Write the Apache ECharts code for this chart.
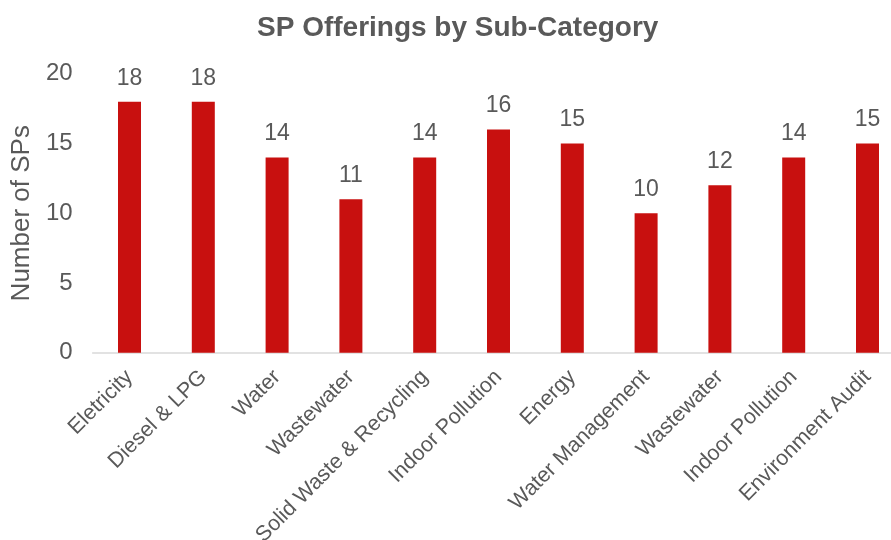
<!DOCTYPE html>
<html>
<head>
<meta charset="utf-8">
<script src="https://cdn.jsdelivr.net/npm/echarts@6/dist/echarts.min.js"></script>
<style>html,body{margin:0;padding:0;background:#fff}#c{width:891px;height:540px}</style>
</head>
<body>
<div id="c"></div>
<script>
const categories = ["Eletricity", "Diesel & LPG", "Water", "Wastewater", "Solid Waste & Recycling", "Indoor Pollution", "Energy", "Water Management", "Wastewater", "Indoor Pollution", "Environment Audit"];
const values = [18, 18, 14, 11, 14, 16, 15, 10, 12, 14, 15];
const yTicks = [0, 5, 10, 15, 20];
const titleText = "SP Offerings by Sub-Category";
const yName = "Number of SPs";

const FONT = '"Liberation Sans", Arial, sans-serif';
const GRAY = '#595959';
const chart = echarts.init(document.getElementById('c'), null, {renderer: 'canvas'});
chart.setOption({
  animation: false,
  backgroundColor: '#ffffff',
  title: {
    text: titleText,
    left: 252,
    top: 9,
    textStyle: {fontFamily: FONT, fontSize: 28, fontWeight: 'bold', color: GRAY}
  },
  grid: {left: 92.6, right: -13.4, top: 73.8, bottom: 187.3, containLabel: false, outerBoundsMode: 'none'},
  xAxis: {
    type: 'category',
    data: categories,
    axisLine: {show: true, lineStyle: {color: '#D9D9D9', width: 1.5}},
    axisTick: {show: false},
    axisLabel: {
      interval: 0,
      rotate: 45,
      margin: 21,
      color: GRAY,
      fontFamily: FONT,
      fontSize: 21.5
    }
  },
  yAxis: {
    type: 'value',
    min: yTicks[0],
    max: yTicks[yTicks.length - 1],
    interval: 5,
    name: yName,
    nameLocation: 'middle',
    nameGap: 56,
    nameTextStyle: {fontFamily: FONT, fontSize: 26, color: GRAY},
    axisLine: {show: false},
    axisTick: {show: false},
    splitLine: {show: false},
    axisLabel: {color: GRAY, fontFamily: FONT, fontSize: 24, margin: 20}
  },
  series: [{
    type: 'bar',
    data: values,
    barWidth: 23,
    itemStyle: {color: '#C8100F'},
    label: {
      show: true,
      position: 'top',
      distance: 12,
      color: GRAY,
      fontFamily: FONT,
      fontSize: 23
    }
  }]
});
</script>
</body>
</html>
